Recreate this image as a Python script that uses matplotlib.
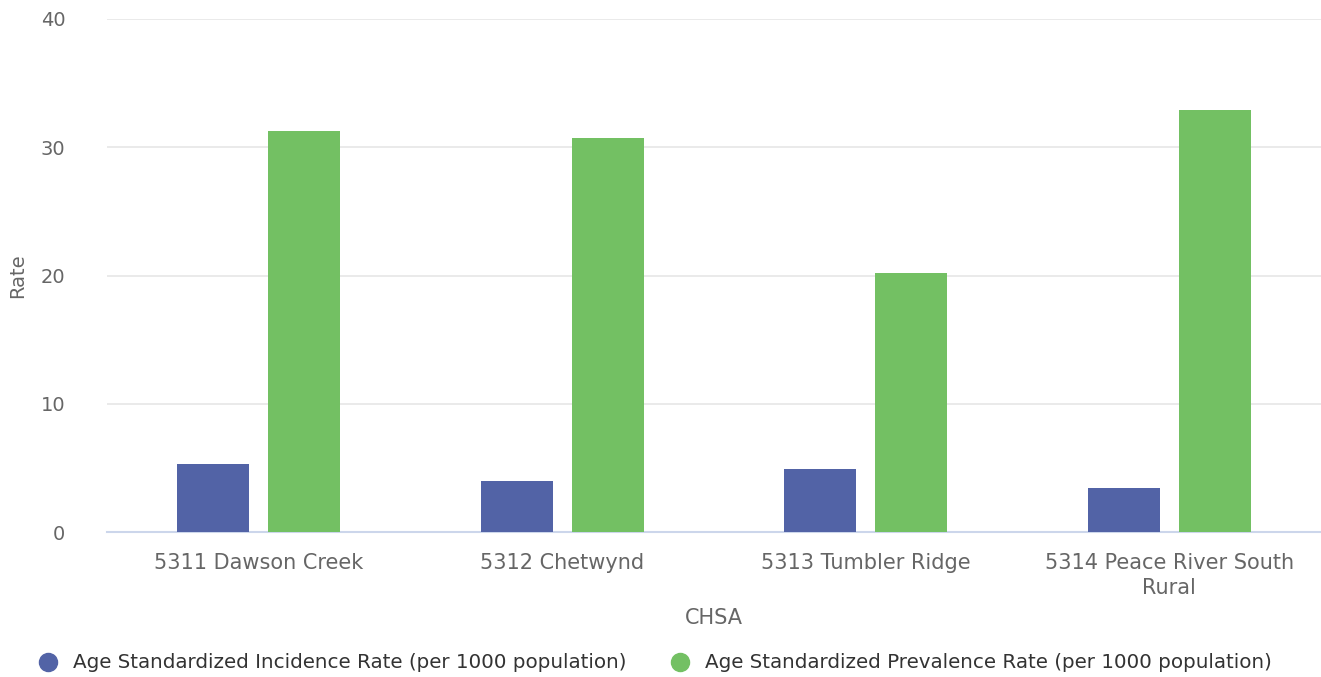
import matplotlib
matplotlib.use("Agg")
import matplotlib.pyplot as plt
import numpy as np
from matplotlib.lines import Line2D

plt.rcParams["font.family"] = ["DejaVu Sans"]

categories = ["5311 Dawson Creek", "5312 Chetwynd", "5313 Tumbler Ridge", "5314 Peace River South\nRural"]
incidence = [5.3, 4.0, 4.9, 3.4]
prevalence = [31.3, 30.7, 20.2, 32.9]
series_names = ["Age Standardized Incidence Rate (per 1000 population)",
                "Age Standardized Prevalence Rate (per 1000 population)"]
colors = ["#5263a6", "#73c063"]

fig = plt.figure(figsize=(13.21, 6.77), dpi=100)
ax = fig.add_axes([107/1321, 1-532/677, 1214/1321, (532-19)/677])

x = np.arange(len(categories))
w = 0.237
ax.bar(x - 0.15, incidence, width=w, color=colors[0], zorder=3)
ax.bar(x + 0.15, prevalence, width=w, color=colors[1], zorder=3)

ax.set_xlim(-0.5, len(categories) - 0.5)
ax.set_ylim(0, 40)
ax.set_yticks([0, 10, 20, 30, 40])
ax.yaxis.grid(True, color="#e6e6e6", linewidth=1.2, zorder=0)
ax.set_axisbelow(True)
for s in ["top", "right", "left"]:
    ax.spines[s].set_visible(False)
ax.spines["bottom"].set_color("#ccd6eb")
ax.spines["bottom"].set_linewidth(1.5)

ax.set_xticks(x)
ax.set_xticklabels(categories, fontsize=15, color="#666666", linespacing=1.35)
ax.tick_params(axis="x", length=0, pad=15)
ax.tick_params(axis="y", length=0, pad=30, labelsize=14, labelcolor="#666666")

ax.set_ylabel("Rate", fontsize=14, color="#666666")
ax.yaxis.set_label_coords(-80/1214, 0.5)
ax.set_xlabel("CHSA", fontsize=15, color="#666666")
ax.xaxis.set_label_coords(0.5, -(608-532)/513)

handles = [Line2D([], [], marker="o", linestyle="", markersize=13, color=c) for c in colors]
fig.legend(handles, series_names, loc="center left", bbox_to_anchor=(20/1321, 1-663/677),
           ncol=2, frameon=False, fontsize=14.3, handletextpad=0.75, columnspacing=2.2,
           labelcolor="#333333", handlelength=1.0)

fig.savefig("out.png", dpi=100)
